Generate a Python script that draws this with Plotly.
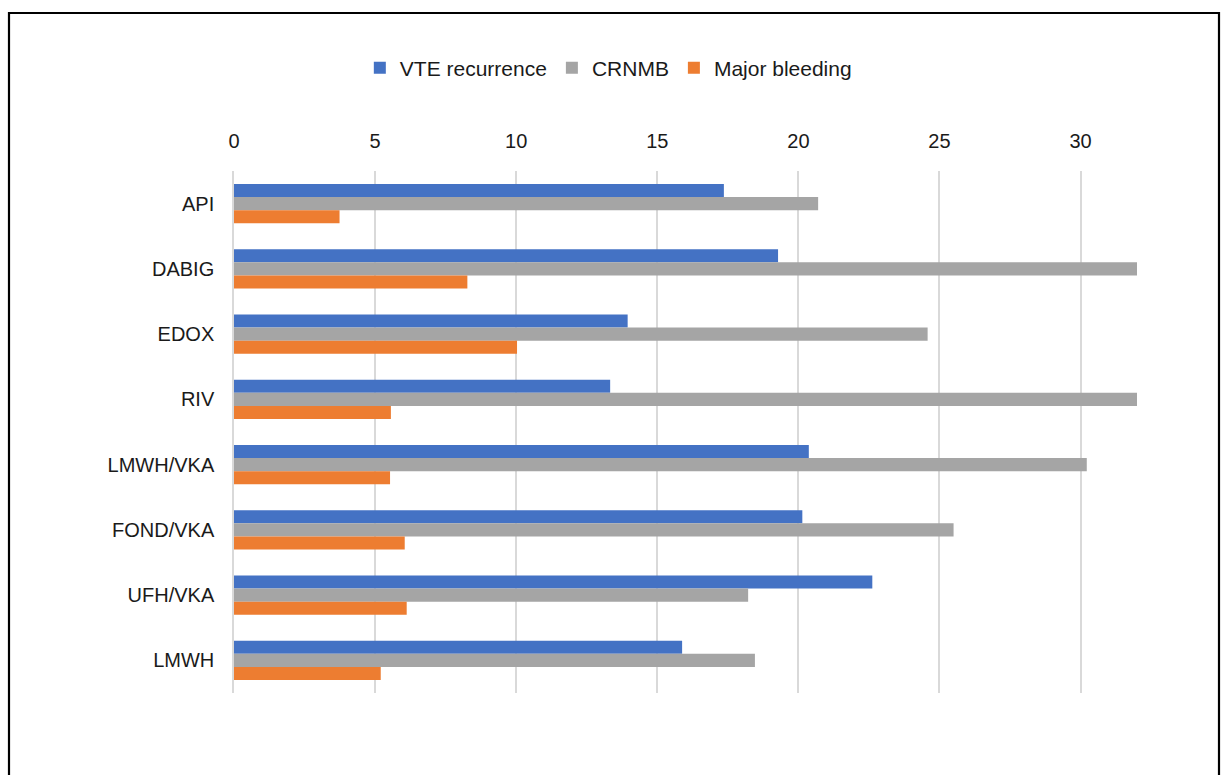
import plotly.graph_objects as go

categories = ["API", "DABIG", "EDOX", "RIV", "LMWH/VKA", "FOND/VKA", "UFH/VKA", "LMWH"]
vte_recurrence = [17.36, 19.28, 13.95, 13.33, 20.37, 20.14, 22.62, 15.88]
crnmb = [20.70, 32.0, 24.58, 32.0, 30.22, 25.5, 18.22, 18.46]
major_bleeding = [3.74, 8.27, 10.03, 5.56, 5.53, 6.05, 6.12, 5.20]
x_ticks = [0, 5, 10, 15, 20, 25, 30]

series = [
    ("VTE recurrence", vte_recurrence, "#4472C4"),
    ("CRNMB", crnmb, "#A5A5A5"),
    ("Major bleeding", major_bleeding, "#ED7D31"),
]

fig = go.Figure()
for name, vals, color in series:
    fig.add_trace(go.Bar(
        y=categories, x=vals, name=name, orientation="h",
        marker=dict(color=color, line=dict(width=0)),
    ))

W, H = 1224, 775
ml, mt = 234, 171
plot_right, plot_bottom = 1137, 693
mr, mb = W - plot_right, H - plot_bottom
pw, ph = W - ml - mr, H - mt - mb

def px_x(p):
    return (p - ml) / pw

def px_y(p):
    return (H - mb - p) / ph

font_family = "Liberation Sans, Arial, sans-serif"

fig.update_layout(
    width=W, height=H,
    margin=dict(l=ml, r=mr, t=mt, b=mb, autoexpand=False),
    paper_bgcolor="white", plot_bgcolor="white",
    barmode="group", bargap=0.40, bargroupgap=0,
    font=dict(family=font_family, size=20, color="#1a1a1a"),
    legend=dict(
        orientation="h", xref="container", yref="container",
        x=0.497, y=1 - 68 / H, xanchor="center", yanchor="middle",
        font=dict(size=21, color="#1a1a1a"), traceorder="normal",
    ),
    xaxis=dict(
        side="top", range=[0, 32], tickvals=x_ticks,
        showgrid=True, gridcolor="#d9d9d9", gridwidth=1.5,
        zeroline=False, showline=False,
        ticks="outside", ticklen=14, tickcolor="rgba(0,0,0,0)",
        tickfont=dict(size=20),
    ),
    yaxis=dict(
        autorange="reversed", showgrid=False, zeroline=False,
        showline=True, linecolor="#d9d9d9", linewidth=1.5,
        ticks="outside", ticklen=14, tickcolor="rgba(0,0,0,0)",
        tickfont=dict(size=20),
    ),
    shapes=[dict(
        type="rect", xref="paper", yref="paper",
        x0=px_x(9), x1=px_x(1219), y0=px_y(800), y1=px_y(13),
        line=dict(color="black", width=2.2), fillcolor="rgba(0,0,0,0)",
        layer="above",
    )],
)

fig.write_html(
    "out.html",
    config={"displayModeBar": False},
    post_script="document.body.style.margin='0';document.body.style.overflow='hidden';",
)
